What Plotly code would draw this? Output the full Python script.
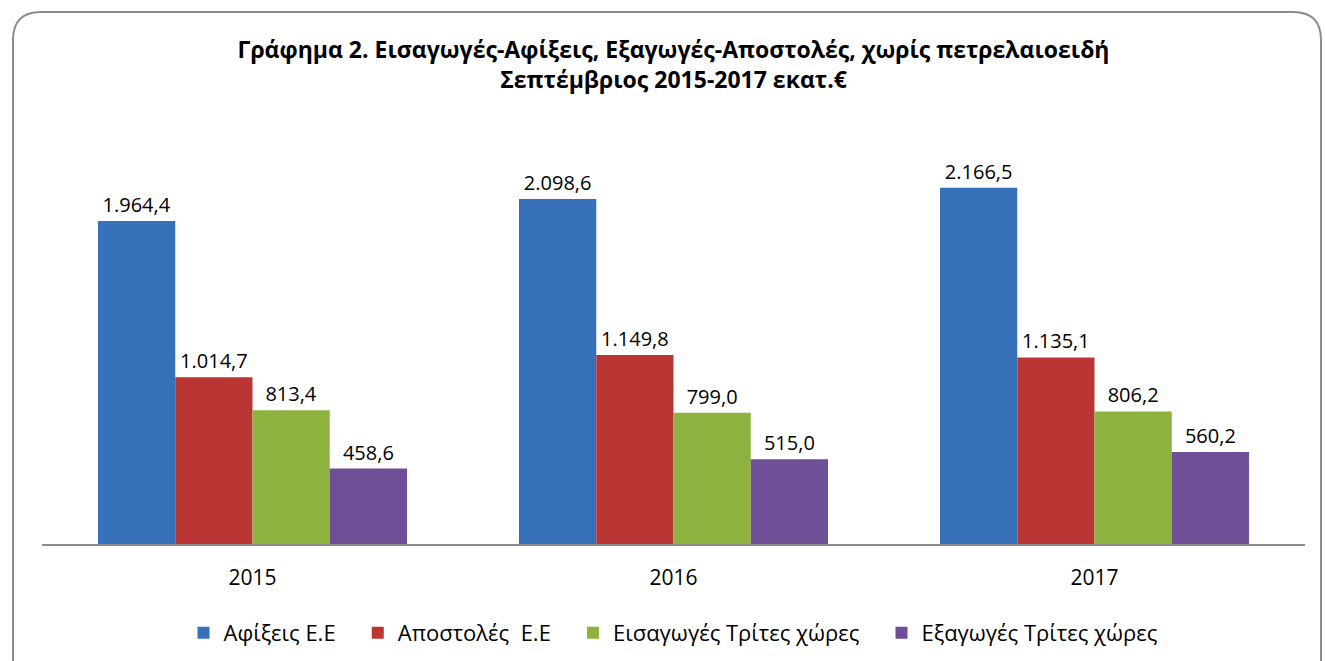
import plotly.graph_objects as go

years = ["2015", "2016", "2017"]
series_names = ["Αφίξεις Ε.Ε", "Αποστολές  Ε.Ε", "Εισαγωγές Τρίτες χώρες", "Εξαγωγές Τρίτες χώρες"]
afixeis = [1964.4, 2098.6, 2166.5]
apostoles = [1014.7, 1149.8, 1135.1]
eisagoges = [813.4, 799.0, 806.2]
exagoges = [458.6, 515.0, 560.2]
colors = ["#3671BA", "#BA3634", "#8DB23F", "#6F4F96"]

W, H = 1325, 661
ML, MR, MT, MB = 42, 20, 133, 117
FONT = "Open Sans"
PAD = "\u00a0\u00a0\u00a0"

fig = go.Figure()
all_vals = [afixeis, apostoles, eisagoges, exagoges]
for i, (name, vals, col) in enumerate(zip(series_names, all_vals, colors)):
    label = name.replace("  ", "\u00a0 ") + (PAD if i < len(series_names) - 1 else "")
    fig.add_trace(go.Bar(
        x=years, y=vals, name=label,
        marker=dict(color=col, line=dict(width=0)),
        text=vals, texttemplate="%{y:,.1f}", textposition="outside",
        textfont=dict(size=20, color="#000000", family=FONT),
        cliponaxis=False,
    ))

pw = W - ML - MR
ph = H - MT - MB
def px(x): return (x - ML) / pw
def py(y): return (H - MB - y) / ph

# rounded border
x0, y0, x1, y1, r = 13, 12, 1321, 668, 28
path = (f"M {px(x0)},{py(y0 + r)} "
        f"Q {px(x0)},{py(y0)} {px(x0 + r)},{py(y0)} "
        f"L {px(x1 - r)},{py(y0)} "
        f"Q {px(x1)},{py(y0)} {px(x1)},{py(y0 + r)} "
        f"L {px(x1)},{py(y1)} L {px(x0)},{py(y1)} Z")

fig.update_layout(
    width=W, height=H,
    margin=dict(l=ML, r=MR, t=MT, b=MB, autoexpand=False),
    paper_bgcolor="white", plot_bgcolor="white",
    separators=",.",
    barmode="group", bargap=0.266, bargroupgap=0,
    font=dict(family=FONT, color="#000000"),
    title=dict(
        text="<b>Γράφημα 2. Εισαγωγές-Αφίξεις, Εξαγωγές-Αποστολές, χωρίς πετρελαιοειδή<br>Σεπτέμβριος 2015-2017 εκατ.€</b>",
        x=0.5, xanchor="center", xref="paper",
        y=1 - 58 / H, yanchor="top", yref="container",
        font=dict(size=23, family=FONT, color="#000000"),
    ),
    xaxis=dict(showline=True, linecolor="#8C8C8C", linewidth=1.5, automargin=False,
               ticks="outside", ticklen=14, tickcolor="rgba(0,0,0,0)",
               tickfont=dict(size=21, family=FONT), showgrid=False),
    yaxis=dict(range=[0, 2500], visible=False, showgrid=False, automargin=False),
    legend=dict(orientation="h", x=0.5, xanchor="center", y=-(633 - (H - MB)) / ph, yanchor="middle",
                font=dict(size=22, family=FONT), traceorder="normal"),
    shapes=[dict(type="path", path=path, xref="paper", yref="paper",
                 line=dict(color="#8C8C8C", width=2), layer="below")],
)

fig.write_html("out.html", config={"displayModeBar": False},
               post_script="document.body.style.margin='0';")
